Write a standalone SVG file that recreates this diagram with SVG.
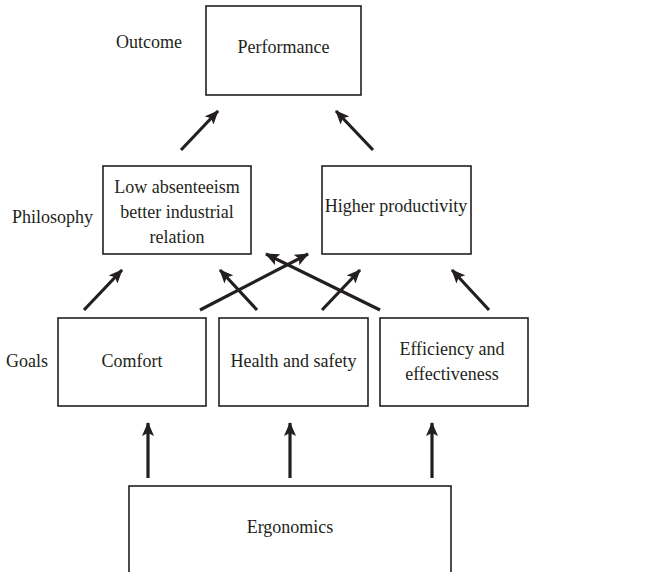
<svg xmlns="http://www.w3.org/2000/svg" width="649" height="572" viewBox="0 0 649 572">
  <style>
    .box { fill: #fff; stroke: #231f20; stroke-width: 1.6; }
    .lbl { font-family: "Liberation Serif", "Times New Roman", serif; font-size: 18px; fill: #231f20; }
    .mid { text-anchor: middle; }
    .conn line { stroke: #231f20; stroke-width: 3.2; marker-end: url(#head); }
  </style>
  <defs>
    <marker id="head" viewBox="0 0 14 12" refX="13" refY="6" markerWidth="14" markerHeight="12" markerUnits="userSpaceOnUse" orient="auto">
      <path d="M0,0 L14,6 L0,12 L3,6 Z" fill="#231f20"/>
    </marker>
  </defs>
  <rect width="649" height="572" fill="#fff"/>

  <!-- level labels -->
  <text class="lbl" x="116" y="48">Outcome</text>
  <text class="lbl" x="12" y="223">Philosophy</text>
  <text class="lbl" x="6" y="367">Goals</text>

  <g id="performance">
    <rect class="box" x="206" y="6" width="155" height="89"/>
    <text class="lbl mid" x="283.5" y="53">Performance</text>
  </g>

  <g id="low-absenteeism">
    <rect class="box" x="103" y="166" width="148" height="88"/>
    <text class="lbl mid" x="177" y="193">Low absenteeism</text>
    <text class="lbl mid" x="177" y="218">better industrial</text>
    <text class="lbl mid" x="177" y="243">relation</text>
  </g>

  <g id="higher-productivity">
    <rect class="box" x="322" y="166" width="149" height="88"/>
    <text class="lbl mid" x="396" y="212">Higher productivity</text>
  </g>

  <g id="comfort">
    <rect class="box" x="58" y="318" width="148" height="88"/>
    <text class="lbl mid" x="132" y="367">Comfort</text>
  </g>

  <g id="health-safety">
    <rect class="box" x="219" y="318" width="149" height="88"/>
    <text class="lbl mid" x="293.5" y="367">Health and safety</text>
  </g>

  <g id="efficiency">
    <rect class="box" x="380" y="318" width="148" height="88"/>
    <text class="lbl mid" x="452" y="355">Efficiency and</text>
    <text class="lbl mid" x="452" y="380">effectiveness</text>
  </g>

  <g id="ergonomics">
    <rect class="box" x="129" y="486" width="322" height="100"/>
    <text class="lbl mid" x="290" y="533">Ergonomics</text>
  </g>

  <g class="conn" id="connectors">
    <!-- philosophy to outcome -->
    <line x1="181" y1="150" x2="218" y2="111"/>
    <line x1="373" y1="150" x2="336" y2="111"/>
    <!-- goals to philosophy -->
    <line x1="84" y1="310" x2="122" y2="270"/>
    <line x1="257" y1="310" x2="220" y2="270"/>
    <line x1="200" y1="310" x2="308" y2="254"/>
    <line x1="380" y1="310" x2="266" y2="254"/>
    <line x1="322" y1="310" x2="360" y2="270"/>
    <line x1="489" y1="310" x2="452" y2="270"/>
    <!-- ergonomics to goals -->
    <line x1="148" y1="478" x2="148" y2="423"/>
    <line x1="290" y1="478" x2="290" y2="423"/>
    <line x1="432" y1="478" x2="432" y2="423"/>
  </g>
</svg>
